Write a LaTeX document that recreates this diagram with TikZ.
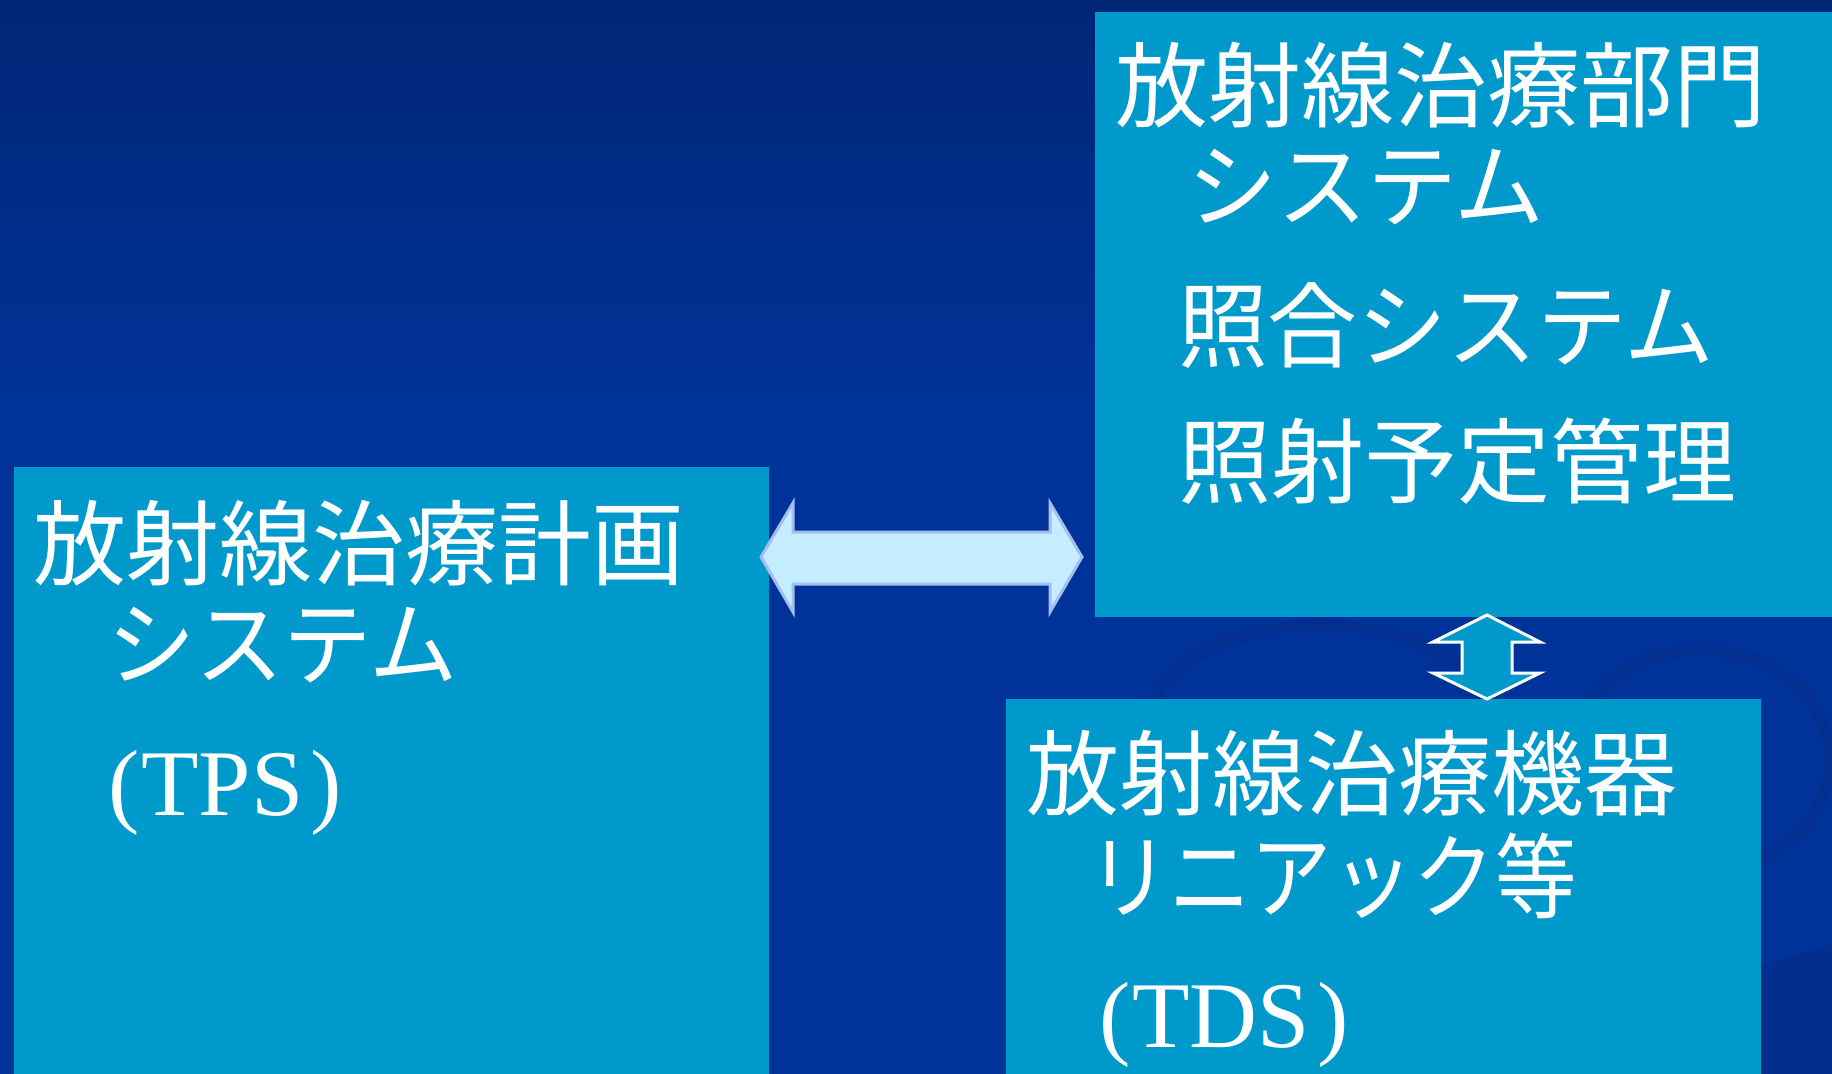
\documentclass[tikz,border=0pt]{standalone}
\usepackage{fontspec}
\newfontfamily\jpfont{Noto Sans CJK JP}
\newfontfamily\serfont{Liberation Serif}
\definecolor{bgTop}{RGB}{0,38,118}
\definecolor{bgMid}{RGB}{0,51,153}
\definecolor{bgDark}{RGB}{6,42,130}
\definecolor{boxBlue}{RGB}{0,153,204}
\definecolor{arrFill}{RGB}{196,238,255}
\definecolor{arrEdge}{RGB}{165,190,240}
\tikzset{
  panel/.style={fill=boxBlue, draw=none, inner sep=0pt, anchor=north west},
  jptext/.style={text=white, inner sep=0pt, anchor=base west, font=\jpfont\fontsize{93}{100}\selectfont},
  sertext/.style={text=white, inner sep=0pt, anchor=base west, font=\serfont\fontsize{94}{100}\selectfont},
  swirl/.style={draw=bgDark, line width=12pt, opacity=0.35},
  bigarrow/.style={fill=arrFill, draw=arrEdge, line width=3pt, line join=miter},
  smallarrow/.style={fill=boxBlue, draw=white, line width=3pt, line join=miter}
}
\begin{document}
\begin{tikzpicture}[x=1pt,y=-1pt]
\useasboundingbox (0,0) rectangle (1832,1074);
% background
\fill[bgMid] (0,0) rectangle (1832,1074);
\shade[top color=bgTop, bottom color=bgMid] (0,0) rectangle (1832,420);
\draw[swirl] (1320,720) ellipse [x radius=170, y radius=95];
\draw[swirl] (1700,760) ellipse [x radius=130, y radius=110];
\fill[bgDark, opacity=0.5] (1761,965) -- (1832,945) -- (1832,1074) -- (1761,1074) -- cycle;
% panels
\node[panel, minimum width=755pt, minimum height=607pt] (tps) at (14,467) {};
\node[panel, minimum width=737pt, minimum height=605pt] (dept) at (1095,12) {};
\node[panel, minimum width=755pt, minimum height=375pt] (tds) at (1006,699) {};
% texts left
\node[jptext] (t1) at (33,578) {放射線治療計画};
\node[jptext, xscale=0.95] (t2) at (107,678) {システム};
\node[sertext] (t3) at (108,815) {(\kern2pt TPS\kern7pt)};
% texts top right
\node[jptext] (d1) at (1115,120) {放射線治療部門};
\node[jptext, xscale=0.967] (d2) at (1187,220) {システム};
\node[jptext, xscale=0.965] (d3) at (1178,360) {照合システム};
\node[jptext] (d4) at (1178,496) {照射予定管理};
% texts bottom right
\node[jptext] (m1) at (1026,808) {放射線治療機器};
\node[jptext, xscale=0.875] (m2) at (1088,911) {リニアック等};
\node[sertext] (m3) at (1099,1047) {(\kern2pt TDS\kern7pt)};
% big horizontal double arrow between tps and dept
\draw[bigarrow] (761,557) -- (793,503) -- (793,532) -- (1050,532) -- (1050,503)
  -- (1082,557) -- (1050,612) -- (1050,584) -- (793,584) -- (793,612) -- cycle;
% small vertical double arrow between dept and tds
\draw[smallarrow] (1487,615) -- (1540,642) -- (1512,642) -- (1512,673) -- (1540,673)
  -- (1487,699) -- (1433,673) -- (1462,673) -- (1462,642) -- (1433,642) -- cycle;
\end{tikzpicture}
\end{document}
